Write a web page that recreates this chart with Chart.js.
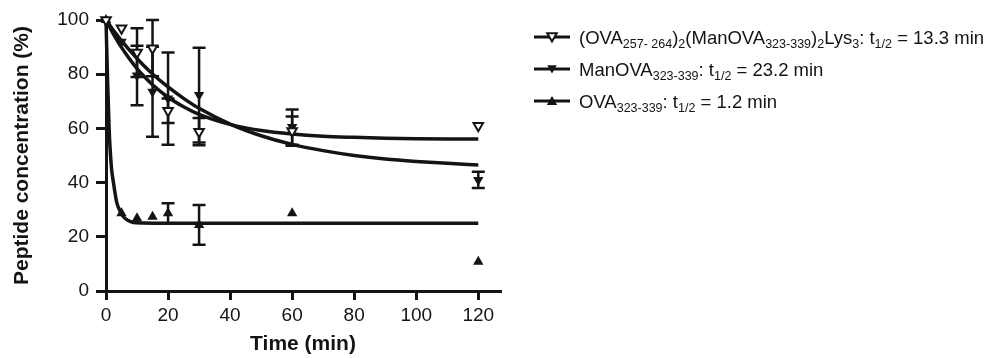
<!DOCTYPE html>
<html><head><meta charset="utf-8">
<script src="https://cdn.jsdelivr.net/npm/chart.js@4.4.1/dist/chart.umd.min.js"></script>
<style>html,body{margin:0;padding:0;background:#fff}#wrap{width:988px;height:358px}</style>
</head><body><div id="wrap"><canvas id="c" width="988" height="358"></canvas></div>
<script>
// ---- data ----
const times = [0, 5, 10, 15, 20, 30, 60, 120];
const conjValues = [100, 97, 88, 89.6, 66.5, 58.8, 59, 61];
const conjErrors = [0, 0, 9, 10.4, 4.5, 5, 5.4, 0];
const manValues = [100, 92, 79.5, 73.5, 71, 72.3, 60.5, 41];
const manErrors = [0, 0, 11, 16.6, 17, 17.5, 6.5, 3];
const ovaValues = [100, 28.7, 26.8, 27.4, 28.7, 24.4, 28.7, 10.8];
const ovaErrors = [0, 0, 0, 0, 3.7, 7.3, 0, 0];

const conjFitTimes = [0, 1, 2, 3, 4, 5, 6, 8, 10, 12, 15, 20, 25, 30, 40, 50, 60, 70, 80, 90, 100, 110, 120];
const conjFitValues = [100, 97.8, 95.6, 93.6, 91.7, 89.9, 88.2, 85, 82.1, 79.5, 76.1, 71.5, 68, 65.2, 61.5, 59.2, 57.9, 57.1, 56.7, 56.4, 56.2, 56.1, 56.1];
const manFitTimes = [0, 1, 2, 3, 4, 5, 6, 8, 10, 12, 15, 20, 25, 30, 40, 50, 60, 70, 80, 90, 100, 110, 120];
const manFitValues = [100, 98.4, 96.8, 95.3, 93.8, 92.4, 91, 88.3, 85.8, 83.4, 80.1, 75.3, 71.1, 67.4, 61.6, 57.3, 54.1, 51.8, 50, 48.7, 47.8, 47.1, 46.5];
const ovaFitTimes = [0, 0.5, 1, 1.3, 1.8, 2.4, 3, 3.5, 4.5, 5.6, 7, 8.8, 12, 20, 120];
const ovaFitValues = [100, 78, 60, 53, 45, 40, 35.5, 32.5, 29.5, 27.4, 26.1, 25.3, 25.1, 25, 25];

const xTicks = [0, 20, 40, 60, 80, 100, 120];
const yTicks = [0, 20, 40, 60, 80, 100];
const xTitle = 'Time (min)';
const yTitle = 'Peptide concentration (%)';
// legend labels: [text, isSubscript]
const legendConj = [['(OVA', 0], ['257- 264', 1], [')', 0], ['2', 1], ['(ManOVA', 0], ['323-339', 1], [')', 0], ['2', 1], ['Lys', 0], ['3', 1], [': t', 0], ['1/2', 1], [' = 13.3 min', 0]];
const legendMan = [['ManOVA', 0], ['323-339', 1], [': t', 0], ['1/2', 1], [' = 23.2 min', 0]];
const legendOva = [['OVA', 0], ['323-339', 1], [': t', 0], ['1/2', 1], [' = 1.2 min', 0]];

// ---- drawing ----
const INK = '#141414';
const FONT = '"Liberation Sans", Arial, Helvetica, sans-serif';
Chart.defaults.font.family = FONT;
Chart.defaults.color = INK;

const pts = (xs, ys) => xs.map((t, i) => ({x: t, y: ys[i]}));

const errorBarPlugin = {
  id: 'errbars',
  beforeDatasetsDraw(chart) {
    const {ctx, scales: {x, y}} = chart;
    ctx.save();
    ctx.strokeStyle = INK; ctx.lineWidth = 2.5; ctx.lineCap = 'butt';
    [[conjValues, conjErrors], [manValues, manErrors], [ovaValues, ovaErrors]].forEach(([vals, errs]) => {
      times.forEach((t, i) => {
        const e = errs[i]; if (!e) return;
        const px = x.getPixelForValue(t);
        const top = y.getPixelForValue(vals[i] + e), bot = y.getPixelForValue(vals[i] - e);
        ctx.beginPath();
        ctx.moveTo(px, top); ctx.lineTo(px, bot);
        ctx.moveTo(px - 6.5, top); ctx.lineTo(px + 6.5, top);
        ctx.moveTo(px - 6.5, bot); ctx.lineTo(px + 6.5, bot);
        ctx.stroke();
      });
    });
    ctx.restore();
  }
};

function drawTri(ctx, cx, cy, r, down, open) {
  const s = down ? -1 : 1;
  ctx.beginPath();
  ctx.moveTo(cx, cy - s * r);
  ctx.lineTo(cx + r * 0.866, cy + s * r * 0.5);
  ctx.lineTo(cx - r * 0.866, cy + s * r * 0.5);
  ctx.closePath();
  if (open) { ctx.fillStyle = '#fff'; ctx.fill(); ctx.lineWidth = 2; ctx.strokeStyle = INK; ctx.stroke(); }
  else { ctx.fillStyle = INK; ctx.fill(); }
}

const legendPlugin = {
  id: 'customLegend',
  afterDraw(chart) {
    const ctx = chart.ctx;
    const rows = [[legendConj, true, true, 37], [legendMan, true, false, 69], [legendOva, false, false, 101]];
    ctx.save();
    rows.forEach(([segs, down, open, ly]) => {
      ctx.strokeStyle = INK; ctx.lineWidth = 3;
      ctx.beginPath(); ctx.moveTo(534, ly); ctx.lineTo(570, ly); ctx.stroke();
      drawTri(ctx, 552, ly + (down ? -1 : 1), down ? 5.5 : 6, down, open);
      let xx = 579;
      const base = ly + 6.5;
      ctx.fillStyle = INK; ctx.textBaseline = 'alphabetic'; ctx.textAlign = 'left';
      segs.forEach(([txt, sub]) => {
        ctx.font = sub ? '12.5px ' + FONT : '18.5px ' + FONT;
        ctx.fillText(txt, xx, sub ? base + 4 : base);
        xx += ctx.measureText(txt).width;
      });
    });
    ctx.restore();
  }
};

const pointCommon = {showLine: false, clip: false, order: 0, pointStyle: 'triangle'};
const lineCommon = {showLine: true, pointRadius: 0, borderColor: INK, borderWidth: 3.5, cubicInterpolationMode: 'monotone', clip: false, order: 1, fill: false};

new Chart(document.getElementById('c'), {
  type: 'scatter',
  data: {
    datasets: [
      Object.assign({label: 'conj', data: pts(times, conjValues), pointRadius: 5.5, pointRotation: 180, pointBackgroundColor: '#fff', pointBorderColor: INK, pointBorderWidth: 2}, pointCommon),
      Object.assign({label: 'man', data: pts(times, manValues), pointRadius: 6, pointRotation: 180, pointBackgroundColor: INK, pointBorderColor: INK, pointBorderWidth: 0}, pointCommon),
      Object.assign({label: 'ova', data: pts(times, ovaValues), pointRadius: 6, pointRotation: 0, pointBackgroundColor: INK, pointBorderColor: INK, pointBorderWidth: 0}, pointCommon),
      Object.assign({label: 'conjFit', data: pts(conjFitTimes, conjFitValues)}, lineCommon),
      Object.assign({label: 'manFit', data: pts(manFitTimes, manFitValues)}, lineCommon),
      Object.assign({label: 'ovaFit', data: pts(ovaFitTimes, ovaFitValues)}, lineCommon)
    ]
  },
  options: {
    responsive: false,
    animation: false,
    devicePixelRatio: 1,
    layout: {padding: {left: 0, right: 488, top: 20, bottom: 0}},
    plugins: {legend: {display: false}, tooltip: {enabled: false}},
    scales: {
      x: {
        type: 'linear', min: 0, max: 127,
        afterBuildTicks: s => { s.ticks = xTicks.map(v => ({value: v})); },
        afterFit: s => { s.height = 67; },
        ticks: {font: {size: 19}, color: INK, padding: 4, includeBounds: false, maxRotation: 0},
        grid: {drawOnChartArea: false, drawTicks: true, tickLength: 9, lineWidth: 3, tickColor: INK},
        border: {display: true, width: 3, color: INK},
        title: {display: true, text: xTitle, font: {size: 21, weight: 'bold'}, color: INK, padding: {top: 0, bottom: 1}}
      },
      y: {
        type: 'linear', min: 0, max: 100,
        afterBuildTicks: s => { s.ticks = yTicks.map(v => ({value: v})); },
        afterFit: s => { s.width = 106; },
        ticks: {font: {size: 19}, color: INK, padding: 7},
        grid: {drawOnChartArea: false, drawTicks: true, tickLength: 10, lineWidth: 3, tickColor: INK},
        border: {display: true, width: 3, color: INK},
        title: {display: true, text: yTitle, font: {size: 21, weight: 'bold'}, color: INK, padding: {top: 10, bottom: 0}}
      }
    }
  },
  plugins: [errorBarPlugin, legendPlugin]
});
</script>
</body></html>
